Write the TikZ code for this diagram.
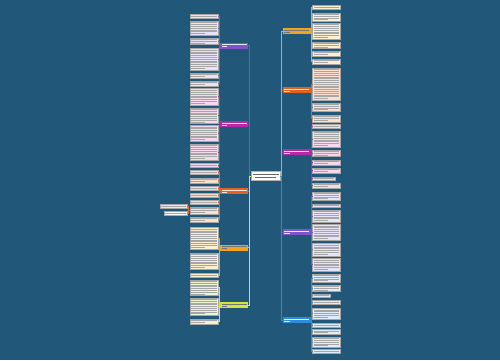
\documentclass[tikz,border=0pt]{standalone}
\usetikzlibrary{calc,shadows}
\definecolor{bg}{RGB}{33,88,122}
\definecolor{cPur}{HTML}{7D55C7}
\definecolor{cMag}{HTML}{B52BA5}
\definecolor{cRed}{HTML}{E4621F}
\definecolor{cAmb}{HTML}{F2A41C}
\definecolor{cLim}{HTML}{D5E537}
\definecolor{cBlu}{HTML}{2F8CD6}
\definecolor{fPur}{HTML}{E9E3F8}
\definecolor{fMag}{HTML}{F7D9EE}
\definecolor{fRed}{HTML}{FCE0CD}
\definecolor{fAmb}{HTML}{FDF0D0}
\definecolor{fLim}{HTML}{EDF5CF}
\definecolor{fBlu}{HTML}{DFEDFA}
\tikzset{
  leafbox/.style={draw=black!35, line width=0.3pt, inner sep=0pt, outer sep=0pt, anchor=north west,
    drop shadow={shadow xshift=0.7pt, shadow yshift=-0.7pt, opacity=0.45, fill=black}},
  branchbox/.style={draw=none, inner sep=0pt, outer sep=0pt, anchor=north west},
  txt/.style={line width=0.55pt, black!35},
  conn/.style={line width=1pt},
}
\newcommand\mmleaf[6]{%
  \node[leafbox, fill=#6, minimum width={(#4-#2)*1pt}, minimum height={(#5-#3)*1pt}] (#1) at (#2,#3) {};
  \pgfmathtruncatemacro\mmnl{max(1,floor((#5-#3-0.6)/1.8))}%
  \pgfmathsetmacro\mmyo{#3+((#5-#3)-(\mmnl-1)*1.8)/2}%
  \foreach \i in {1,...,\mmnl}{%
    \pgfmathsetmacro\mmxe{(\i==\mmnl && \mmnl>1) ? (#2+0.55*(#4-#2)) : (#4-1.3)}%
    \draw[txt] (#2+1.3,{\mmyo+(\i-1)*1.8}) -- (\mmxe,{\mmyo+(\i-1)*1.8});
  }}
\newcommand\mmbranch[7]{%
  \node[branchbox, fill=#6, minimum width={(#4-#2)*1pt}, minimum height={(#5-#3)*1pt}] (#1) at (#2,#3) {};
  \draw[line width=0.6pt, #7] (#2+1.5,#3+2) -- (#4-1.5,#3+2);
  \draw[line width=0.6pt, #7] (#2+1.5,#3+4.2) -- (#2+7,#3+4.2);
}
\newcommand\lconn[3]{\draw[conn,#3] (#1.west) -- ++(-1,0) |- (#2.east);}
\newcommand\rconn[3]{\draw[conn,#3] (#1.east) -- ++(1,0) |- (#2.west);}
\begin{document}
\begin{tikzpicture}[x=1pt,y=-1pt]
\fill[bg] (0,0) rectangle (500,360);
\useasboundingbox (0,0) rectangle (500,360);

% left branches
\mmbranch{bLP}{220}{42.5}{248}{48.5}{cPur}{white!85!cPur}
\mmbranch{bLM}{220}{121}{248}{127}{cMag}{white!85!cMag}
\mmbranch{bLR}{220}{188}{248}{194}{cRed}{white!85!cRed}
\mmbranch{bLA}{220}{244.5}{248}{250.5}{cAmb}{black!55}
\mmbranch{bLL}{220}{302}{248}{308}{cLim}{black!55}
% right branches
\mmbranch{bRA}{282.5}{28}{310.5}{34}{cAmb}{black!55}
\mmbranch{bRR}{282.5}{87}{310.5}{93}{cRed}{white!85!cRed}
\mmbranch{bRM}{282.5}{149}{310.5}{155}{cMag}{white!85!cMag}
\mmbranch{bRP}{282.5}{229}{310.5}{235}{cPur}{white!85!cPur}
\mmbranch{bRB}{282.5}{317}{310.5}{323}{cBlu}{white!85!cBlu}

% center
\node[leafbox, fill=white, draw=black!30, minimum width=29pt, minimum height=9pt] (c) at (251,171.5) {};
\draw[txt, black!60] (252.5,174.3) -- (278.5,174.3);
\draw[txt, black!60] (255,177.6) -- (276,177.6);

% center connectors (nearest first, farthest last)
\draw[conn,cRed] (c.west) -- ++(-1.5,0) |- (bLR.east);
\draw[conn,cMag] (c.west) -- ++(-1.5,0) |- (bLM.east);
\draw[conn,cAmb] (c.west) -- ++(-1.5,0) |- (bLA.east);
\draw[conn,cPur] (c.west) -- ++(-1.5,0) |- (bLP.east);
\draw[conn,cLim] (c.west) -- ++(-1.5,0) |- (bLL.east);
\draw[conn,cMag] (c.east) -- ++(1.5,0) |- (bRM.west);
\draw[conn,cRed] (c.east) -- ++(1.5,0) |- (bRR.west);
\draw[conn,cPur] (c.east) -- ++(1.5,0) |- (bRP.west);
\draw[conn,cAmb] (c.east) -- ++(1.5,0) |- (bRA.west);
\draw[conn,cBlu] (c.east) -- ++(1.5,0) |- (bRB.west);

% left leaves
\mmleaf{L1}{190}{14}{218}{18}{fPur}
\mmleaf{L2}{190}{21}{218}{35}{fPur}
\mmleaf{L3}{190}{38}{218}{44}{fPur}
\mmleaf{L4}{190}{48}{218}{70}{fPur}
\mmleaf{L5}{190}{73}{218}{78}{fPur}
\mmleaf{L6}{190}{81}{218}{86}{fPur}
\mmleaf{L7}{190}{88.5}{218}{105}{fMag}
\mmleaf{L8}{190}{108}{218}{123}{fMag}
\mmleaf{L9}{190}{125.5}{218}{141}{fMag}
\mmleaf{L10}{190}{144}{218}{160}{fMag}
\mmleaf{L11}{190}{163}{218}{167}{fMag}
\mmleaf{L12}{190}{170}{218}{174}{fRed}
\mmleaf{L13}{190}{178}{218}{183}{fRed}
\mmleaf{L14}{190}{186}{218}{190}{fRed}
\mmleaf{L15}{190}{193}{218}{197}{fRed}
\mmleaf{L16}{190}{200}{218}{204}{fRed}
\mmleaf{L17}{190}{207}{218}{214}{fRed}
\mmleaf{L18}{190}{217}{218}{222}{fRed}
\mmleaf{L19}{190}{227}{218}{249}{fAmb}
\mmleaf{L20}{190}{253}{218}{269}{fAmb}
\mmleaf{L21}{190}{273}{218}{277}{fAmb}
\mmleaf{L22}{190}{280}{218}{295}{fLim}
\mmleaf{L23}{190}{298}{218}{315}{fLim}
\mmleaf{L24}{190}{319}{218}{324}{fLim}
% sub leaves
\mmleaf{S1}{160}{204}{187}{208}{fRed}
\mmleaf{S2}{164}{211}{187}{215}{white}

\foreach \l in {L1,L2,L3,L4,L5,L6}{\lconn{bLP}{\l}{cPur}}
\foreach \l in {L7,L8,L9,L10,L11}{\lconn{bLM}{\l}{cMag}}
\foreach \l in {L12,L13,L14,L15,L16,L17,L18}{\lconn{bLR}{\l}{cRed}}
\foreach \l in {L19,L20,L21}{\lconn{bLA}{\l}{cAmb}}
\foreach \l in {L22,L23,L24}{\lconn{bLL}{\l}{cLim}}
\draw[conn,cRed] (L17.west) -- ++(-1.5,0) |- (S1.east);
\draw[conn,cRed] (L17.west) -- ++(-1.5,0) |- (S2.east);

% right leaves
\mmleaf{R1}{312.5}{5}{340}{9}{fAmb}
\mmleaf{R2}{312.5}{13}{340}{21}{fAmb}
\mmleaf{R3}{312.5}{23}{340}{39}{fAmb}
\mmleaf{R4}{312.5}{42}{340}{48}{fAmb}
\mmleaf{R5}{312.5}{51}{340}{56}{fAmb}
\mmleaf{R6}{312.5}{59}{340}{64}{fAmb}
\mmleaf{R7}{312.5}{68}{340}{100}{fRed}
\mmleaf{R8}{312.5}{103}{340}{111}{fRed}
\mmleaf{R9}{312.5}{115}{340}{122}{fRed}
\mmleaf{R10}{312.5}{124}{340}{128}{fMag}
\mmleaf{R11}{312.5}{131}{340}{147}{fMag}
\mmleaf{R12}{312.5}{150}{340}{156}{fMag}
\mmleaf{R13}{312.5}{160}{340}{165}{fMag}
\mmleaf{R14}{312.5}{168}{340}{173}{fMag}
\mmleaf{R15}{312.5}{177}{335}{180}{fMag}
\mmleaf{R16}{312.5}{183}{340}{188}{fMag}
\mmleaf{R17}{312.5}{192}{340}{200}{fPur}
\mmleaf{R18}{312.5}{204}{340}{207}{fPur}
\mmleaf{R19}{312.5}{210}{340}{222}{fPur}
\mmleaf{R20}{312.5}{224.5}{340}{240}{fPur}
\mmleaf{R21}{312.5}{243}{340}{256}{fPur}
\mmleaf{R22}{312.5}{258.5}{340}{271}{fPur}
\mmleaf{R23}{312.5}{274}{340}{282}{fBlu}
\mmleaf{R24}{312.5}{285}{340}{291}{fBlu}
\mmleaf{R25}{312.5}{294}{330}{297}{fBlu}
\mmleaf{R26}{312.5}{300}{340}{304}{fBlu}
\mmleaf{R27}{312.5}{308}{340}{319}{fBlu}
\mmleaf{R28}{312.5}{323}{340}{327}{fBlu}
\mmleaf{R29}{312.5}{329.5}{340}{334}{fBlu}
\mmleaf{R30}{312.5}{337}{340}{347}{fBlu}
\mmleaf{R31}{312.5}{349}{340}{353}{fBlu}

\foreach \l in {R1,R2,R3,R4,R5,R6}{\rconn{bRA}{\l}{cAmb}}
\foreach \l in {R7,R8,R9}{\rconn{bRR}{\l}{cRed}}
\foreach \l in {R10,R11,R12,R13,R14,R15,R16}{\rconn{bRM}{\l}{cMag}}
\foreach \l in {R17,R18,R19,R20,R21,R22}{\rconn{bRP}{\l}{cPur}}
\foreach \l in {R23,R24,R25,R26,R27,R28,R29,R30,R31}{\rconn{bRB}{\l}{cBlu}}
\end{tikzpicture}
\end{document}
